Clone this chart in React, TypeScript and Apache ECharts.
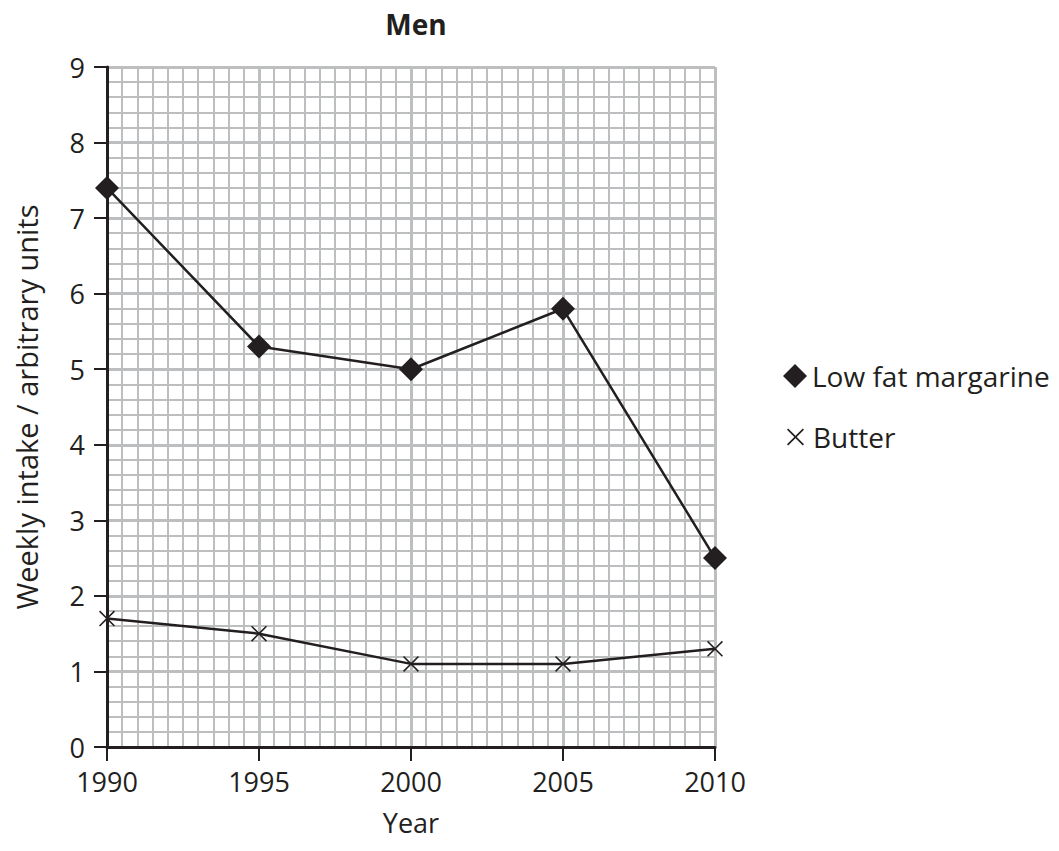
import React, { useEffect, useRef } from "react";
import * as echarts from "echarts";

const years = [1990, 1995, 2000, 2005, 2010];
const margarine = [7.4, 5.3, 5.0, 5.8, 2.5];
const butter = [1.7, 1.5, 1.1, 1.1, 1.3];
const seriesNames = ["Low fat margarine", "Butter"];
const titleText = "Men";
const xName = "Year";
const yName = "Weekly intake / arbitrary units";

const INK = "#231f20";
const GRID = "#bcbec0";
const FONT = "'Open Sans', 'Noto Sans', sans-serif";
const CROSS =
  "path://M0,0.7L0.7,0L5,4.3L9.3,0L10,0.7L5.7,5L10,9.3L9.3,10L5,5.7L0.7,10L0,9.3L4.3,5Z";

export default function App() {
  const ref = useRef<HTMLDivElement>(null);
  useEffect(() => {
    if (!ref.current) return;
    const chart = echarts.init(ref.current, null, { renderer: "svg" });
    chart.setOption({
      animation: false,
      backgroundColor: "#ffffff",
      title: {
        text: titleText,
        left: 411,
        top: 5,
        textAlign: "center",
        textStyle: { fontFamily: FONT, fontWeight: "bold", fontSize: 28, color: INK },
      },
      legend: [
        {
          orient: "vertical",
          left: 778,
          top: 357,
          itemWidth: 24,
          itemHeight: 24,
          data: [{ name: seriesNames[0], icon: "diamond" }],
          textStyle: { fontFamily: FONT, fontSize: 28, color: INK },
          itemStyle: { color: INK },
        },
        {
          orient: "vertical",
          left: 782,
          top: 418,
          itemWidth: 17,
          itemHeight: 17,
          data: [{ name: seriesNames[1], icon: CROSS }],
          textStyle: { fontFamily: FONT, fontSize: 28, color: INK, padding: [0, 0, 0, 4] },
          itemStyle: { color: INK },
        },
      ],
      grid: { left: 107, top: 67, width: 608, height: 680 },
      xAxis: {
        type: "value",
        min: 1990,
        max: 2010,
        interval: 5,
        name: xName,
        nameLocation: "middle",
        nameGap: 62,
        nameTextStyle: { fontFamily: FONT, fontSize: 27, color: INK },
        axisLine: { show: true, lineStyle: { color: INK, width: 3 } },
        axisTick: { show: true, length: 14, lineStyle: { color: INK, width: 2 } },
        axisLabel: {
          margin: 21,
          fontFamily: FONT,
          fontSize: 27,
          color: INK,
          formatter: (v: number) => String(v),
        },
        splitLine: { show: true, lineStyle: { color: GRID, width: 3 } },
        minorTick: { show: false, splitNumber: 10 },
        minorSplitLine: { show: true, lineStyle: { color: GRID, width: 2 } },
      },
      yAxis: {
        type: "value",
        min: 0,
        max: 9,
        interval: 1,
        name: yName,
        nameLocation: "middle",
        nameGap: 66,
        nameTextStyle: { fontFamily: FONT, fontSize: 29, color: INK },
        axisLine: { show: true, lineStyle: { color: INK, width: 3 } },
        axisTick: { show: true, length: 13, lineStyle: { color: INK, width: 2 } },
        axisLabel: { margin: 22, fontFamily: FONT, fontSize: 27, color: INK },
        splitLine: { show: true, lineStyle: { color: GRID, width: 3 } },
        minorTick: { show: false, splitNumber: 5 },
        minorSplitLine: { show: true, lineStyle: { color: GRID, width: 2 } },
      },
      series: [
        {
          name: seriesNames[0],
          type: "line",
          data: years.map((y, i) => [y, margarine[i]]),
          symbol: "diamond",
          symbolSize: 24,
          showAllSymbol: true,
          lineStyle: { color: INK, width: 2.5 },
          itemStyle: { color: INK, borderWidth: 0 },
          z: 5,
        },
        {
          name: seriesNames[1],
          type: "line",
          data: years.map((y, i) => [y, butter[i]]),
          symbol: CROSS,
          symbolSize: 16,
          showAllSymbol: true,
          lineStyle: { color: INK, width: 2.5 },
          itemStyle: { color: INK, borderWidth: 0 },
          z: 5,
        },
      ],
    });
    return () => chart.dispose();
  }, []);
  return (
    <div
      ref={ref}
      style={{ position: "absolute", left: 0, top: 0, width: 1059, height: 851, background: "#fff" }}
    />
  );
}
